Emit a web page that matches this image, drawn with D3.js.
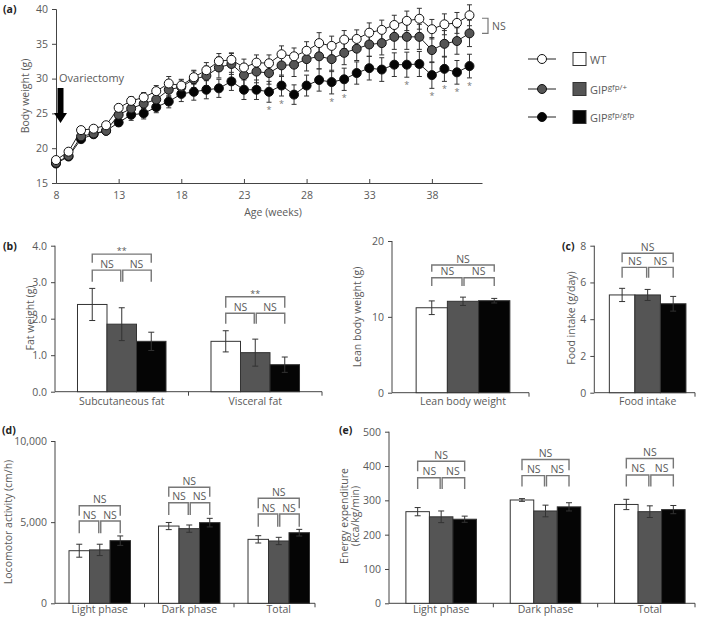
<!DOCTYPE html>
<html><head><meta charset="utf-8">
<script src="https://cdn.jsdelivr.net/npm/d3@7"></script>
<style>
body{margin:0;background:#fff}
svg{display:block}
text{font-family:"Open Sans",sans-serif;fill:#5a5a5a}
</style>
</head><body>
<svg id="c" width="709" height="618"></svg>
<script>
// ---------- DATA ----------
const weeks=[8,9,10,11,12,13,14,15,16,17,18,19,20,21,22,23,24,25,26,27,28,29,30,31,32,33,34,35,36,37,38,39,40,41];
const wtBW =[18.3,19.5,22.6,22.8,23.3,25.8,26.8,27.3,28.2,29.3,29.0,30.2,31.2,32.5,32.7,31.6,32.3,32.2,33.5,33.2,34.0,35.1,34.7,35.6,35.7,36.6,37.0,37.7,38.3,38.6,37.1,37.8,38.0,39.1];
const hetBW=[17.9,18.9,21.7,22.1,22.5,24.8,25.7,26.4,27.0,28.4,28.8,29.9,30.4,31.6,32.1,30.5,31.0,30.8,31.9,32.0,32.8,33.2,32.8,33.7,34.3,34.9,35.1,36.0,36.0,36.0,34.1,35.0,35.4,36.5];
const homBW=[17.8,18.8,21.3,22.0,22.5,23.7,24.8,25.0,25.9,26.7,27.8,28.1,28.4,28.6,29.6,28.4,28.4,28.1,29.0,27.7,29.0,29.8,29.5,29.9,30.8,31.5,31.3,32.0,32.0,32.1,30.5,31.4,30.9,31.8];
const wtErr =[0.3,0.3,0.4,0.4,0.4,0.5,0.6,0.7,0.8,1.0,0.9,1.0,1.1,1.1,1.0,1.2,1.1,1.2,1.2,1.2,1.3,1.5,1.4,1.3,1.3,1.4,1.4,1.4,1.4,1.5,1.4,1.5,1.5,1.5];
const hetErr=[0.3,0.3,0.4,0.4,0.4,0.5,0.6,0.7,0.8,1.0,1.0,1.2,1.4,1.5,1.5,1.6,1.6,1.6,1.6,1.7,1.7,1.8,1.8,1.7,1.7,1.7,1.7,1.8,1.8,1.8,1.8,1.9,1.9,1.9];
const homErr=[0.3,0.3,0.4,0.4,0.4,0.5,0.8,0.8,0.8,0.9,1.1,1.2,1.3,1.3,1.3,1.4,1.4,1.5,1.5,1.4,1.5,1.6,1.7,1.6,1.6,1.7,1.7,1.7,1.8,1.8,1.9,1.8,1.7,1.7];
const sigWeeks=[25,26,30,31,36,38,39,40,41];
const weekTicks=[8,13,18,23,28,33,38];
const bwTicks=[15,20,25,30,35,40];

const groupNames=["WT","GIP","GIP"];
const groupSup=["","gfp/+","gfp/gfp"];
const groupFill=["#ffffff","#555555","#050505"];

const fatCats=["Subcutaneous fat","Visceral fat"];
const fatMean=[[2.39,1.85,1.38],[1.38,1.07,0.74]];
const fatErr =[[0.44,0.45,0.25],[0.29,0.37,0.21]];
const fatSig =[["**","NS","NS"],["**","NS","NS"]];
const fatTicks=[0,1,2,3,4];

const leanCats=["Lean body weight"];
const leanMean=[[11.2,12.05,12.13]];
const leanErr =[[0.9,0.55,0.3]];
const leanSig =[["NS","NS","NS"]];
const leanTicks=[0,10,20];

const foodCats=["Food intake"];
const foodMean=[[5.32,5.32,4.84]];
const foodErr =[[0.36,0.3,0.4]];
const foodSig =[["NS","NS","NS"]];
const foodTicks=[0,2,4,6,8];

const phaseCats=["Light phase","Dark phase","Total"];
const locoMean=[[3240,3290,3860],[4760,4600,4970],[3940,3840,4350]];
const locoErr =[[400,350,290],[220,225,265],[225,225,205]];
const locoSig =[["NS","NS","NS"],["NS","NS","NS"],["NS","NS","NS"]];
const locoTicks=[0,5000,10000];

const eeMean=[[267,252,245],[301,269,281],[288,267,273]];
const eeErr =[[12,17,9],[4,17,12],[15,17,12]];
const eeSig =[["NS","NS","NS"],["NS","NS","NS"],["NS","NS","NS"]];
const eeTicks=[0,100,200,300,400,500];

// ---------- DRAW ----------
const svg=d3.select("#c");
const AX="#444", BR="#777", FS=10.5;

function styleAxis(g){
  g.selectAll("path.domain").attr("stroke",AX).attr("stroke-width",1);
  g.selectAll(".tick line").attr("stroke",AX);
  g.selectAll(".tick text").attr("font-size",FS).attr("fill","#5a5a5a").attr("font-family","Open Sans");
}
function panelLabel(t,x,y){
  svg.append("text").attr("x",x).attr("y",y).text(t).attr("font-size",10.5)
    .attr("font-weight","bold").style("fill","#222");
}
function yTitle(lines,x,y){
  const t=svg.append("text").attr("transform",`translate(${x},${y}) rotate(-90)`)
    .attr("text-anchor","middle").attr("font-size",FS);
  lines.forEach((l,i)=>t.append("tspan").attr("x",0).attr("dy",i?"1.05em":0).text(l));
}

// ===== Panel (a) =====
(function(){
  const x=d3.scaleLinear().domain([8,42]).range([56,482]);
  const y=d3.scaleLinear().domain([15,40]).range([183,9]);
  const gx=svg.append("g").attr("transform","translate(0,183)")
    .call(d3.axisBottom(x).tickValues(weekTicks).tickSizeInner(-4).tickSizeOuter(0).tickPadding(9));
  styleAxis(gx);
  const gy=svg.append("g").attr("transform","translate(56,0)")
    .call(d3.axisLeft(y).tickValues(bwTicks).tickSize(4).tickPadding(4));
  styleAxis(gy);
  svg.append("text").attr("x",273).attr("y",216).attr("text-anchor","middle").attr("font-size",FS).text("Age (weeks)");
  yTitle(["Body weight (g)"],29,96);
  panelLabel("(a)",3,13);

  const series=[
    {v:homBW,e:homErr,fill:groupFill[2]},
    {v:hetBW,e:hetErr,fill:groupFill[1]},
    {v:wtBW,e:wtErr,fill:groupFill[0]}];
  const eg=svg.append("g").attr("stroke","#333").attr("stroke-width",1);
  series.forEach(s=>{
    weeks.forEach((w,i)=>{
      const xx=x(w), t=y(s.v[i]+s.e[i]), b=y(s.v[i]-s.e[i]);
      eg.append("line").attr("x1",xx).attr("x2",xx).attr("y1",t).attr("y2",b);
      eg.append("line").attr("x1",xx-2.5).attr("x2",xx+2.5).attr("y1",t).attr("y2",t);
      eg.append("line").attr("x1",xx-2.5).attr("x2",xx+2.5).attr("y1",b).attr("y2",b);
    });
  });
  const line=d3.line().x((d,i)=>x(weeks[i])).y(d=>y(d));
  series.forEach(s=>{
    svg.append("path").datum(s.v).attr("d",line).attr("fill","none").attr("stroke","#222").attr("stroke-width",1);
  });
  series.forEach(s=>{
    svg.append("g").selectAll("circle").data(s.v).join("circle")
      .attr("cx",(d,i)=>x(weeks[i])).attr("cy",d=>y(d)).attr("r",4.5)
      .attr("fill",s.fill).attr("stroke","#111").attr("stroke-width",1);
  });
  sigWeeks.forEach(w=>{
    const i=weeks.indexOf(w);
    svg.append("text").attr("x",x(w)).attr("y",y(homBW[i]-homErr[i])+11)
      .attr("text-anchor","middle").attr("font-size",9).style("fill","#777").text("*");
  });
  const xe=x(42), y1=y(wtBW[wtBW.length-1])+3, y2=y(hetBW[hetBW.length-1]);
  svg.append("path").attr("d",`M${xe},${y1}H${xe+6}V${y2}H${xe}`).attr("fill","none").attr("stroke",BR).attr("stroke-width",1.2);
  svg.append("text").attr("x",xe+10).attr("y",(y1+y2)/2+4).attr("font-size",FS).text("NS");
  svg.append("text").attr("x",59).attr("y",82).attr("font-size",FS+0.5).text("Ovariectomy");
  const ax=x(8)+4.5;
  svg.append("path").attr("d",`M${ax-3},88H${ax+3}V113H${ax+6.5}L${ax},123L${ax-6.5},113H${ax-3}Z`).attr("fill","#000");

  const ly=[59,89,117];
  const lg=svg.append("g");
  [0,1,2].forEach(k=>{
    lg.append("line").attr("x1",528).attr("x2",556).attr("y1",ly[k]).attr("y2",ly[k]).attr("stroke","#222");
    lg.append("circle").attr("cx",542).attr("cy",ly[k]).attr("r",4.5).attr("fill",groupFill[k]).attr("stroke","#111");
    lg.append("rect").attr("x",573).attr("y",ly[k]-6.5).attr("width",13).attr("height",13)
      .attr("fill",groupFill[k]).attr("stroke","#333").attr("stroke-width",1);
    const t=lg.append("text").attr("x",590).attr("y",ly[k]+4.5).attr("font-size",11).text(groupNames[k]);
    if(groupSup[k]) t.append("tspan").attr("dy",-4).attr("font-size",8).text(groupSup[k]);
  });
})();

// ===== Bar panels =====
function barPanel(o){
  const y=d3.scaleLinear().domain(o.domain).range([o.y0,o.y1]);
  const xb=d3.scaleBand().domain(o.cats).range(o.xr);
  const gw=xb.bandwidth()*o.gf;
  const xi=d3.scaleBand().domain([0,1,2]).range([-gw/2,gw/2]);
  const gy=svg.append("g").attr("transform",`translate(${o.xr[0]},0)`)
    .call(d3.axisLeft(y).tickValues(o.ticks).tickSize(4).tickPadding(4).tickSizeOuter(0).tickFormat(o.fmt||null));
  styleAxis(gy);
  gy.select("path.domain").attr("d",`M0,${o.y0}V${o.y1}`);
  svg.append("line").attr("x1",o.xr[0]).attr("x2",o.axEnd).attr("y1",o.y0).attr("y2",o.y0).attr("stroke",AX);
  o.cats.forEach((c,j)=>{ if(j>0){const bx=xb(c); svg.append("line").attr("x1",bx).attr("x2",bx).attr("y1",o.y0).attr("y2",o.y0+4).attr("stroke",AX);} });
  svg.append("line").attr("x1",o.axEnd).attr("x2",o.axEnd).attr("y1",o.y0).attr("y2",o.y0+4).attr("stroke",AX);
  o.cats.forEach((c,j)=>{
    const cx=xb(c)+xb.bandwidth()/2;
    svg.append("text").attr("x",cx).attr("y",o.y0+o.ld).attr("text-anchor","middle").attr("font-size",FS).text(c);
    const centers=[];
    [0,1,2].forEach(k=>{
      const x0=cx+xi(k), w=xi.bandwidth();
      centers.push(x0+w/2);
      svg.append("rect").attr("x",x0).attr("y",y(o.mean[j][k])).attr("width",w)
        .attr("height",o.y0-y(o.mean[j][k])).attr("fill",groupFill[k]).attr("stroke","#333").attr("stroke-width",1);
    });
    [0,1,2].forEach(k=>{
      const xx=centers[k], t=y(o.mean[j][k]+o.err[j][k]), b=y(o.mean[j][k]-o.err[j][k]);
      const g=svg.append("g").attr("stroke","#333").attr("stroke-width",1);
      g.append("line").attr("x1",xx).attr("x2",xx).attr("y1",t).attr("y2",b);
      g.append("line").attr("x1",xx-3).attr("x2",xx+3).attr("y1",t).attr("y2",t);
      g.append("line").attr("x1",xx-3).attr("x2",xx+3).attr("y1",b).attr("y2",b);
    });
    const L=o.br[j].map(v=>y(v));
    const bg=svg.append("g").attr("fill","none").attr("stroke",BR).attr("stroke-width",1.4);
    const c0=centers[0], c1=centers[1], c2=centers[2];
    bg.append("path").attr("d",`M${c0},${L[1]}V${L[0]}H${c2}V${L[1]}`);
    bg.append("path").attr("d",`M${c0},${L[3]}V${L[2]}H${c1-1}V${L[3]}`);
    bg.append("path").attr("d",`M${c1+1},${L[3]}V${L[2]}H${c2}V${L[3]}`);
    const s=o.sig[j];
    svg.append("text").attr("x",c1).attr("y",L[0]-(s[0]==="**"?0:2.5)).attr("text-anchor","middle")
      .attr("font-size",s[0]==="**"?9:FS).text(s[0]);
    svg.append("text").attr("x",(c0+c1)/2).attr("y",L[2]-2.5).attr("text-anchor","middle").attr("font-size",FS).text(s[1]);
    svg.append("text").attr("x",(c1+c2)/2).attr("y",L[2]-2.5).attr("text-anchor","middle").attr("font-size",FS).text(s[2]);
  });
}

barPanel({cats:fatCats,mean:fatMean,err:fatErr,sig:fatSig,ticks:fatTicks,domain:[0,4],
  xr:[55,322],axEnd:322,y0:391.7,y1:245.7,gf:0.663,ld:13,
  br:[[3.77,3.53,3.33,3.01],[2.60,2.30,2.15,1.86]]});
yTitle(["Fat weight (g)"],34,318);
panelLabel("(b)",3,250);

barPanel({cats:leanCats,mean:leanMean,err:leanErr,sig:leanSig,ticks:leanTicks,domain:[0,20],
  xr:[392,534],axEnd:529,y0:392.7,y1:241,gf:0.66,ld:12,
  br:[[16.83,15.95,15.16,14.07]]});
yTitle(["Lean body weight (g)"],361,317);

barPanel({cats:foodCats,mean:foodMean,err:foodErr,sig:foodSig,ticks:foodTicks,domain:[0,8],
  xr:[594.3,701],axEnd:695,y0:392.7,y1:245.7,gf:0.718,ld:12,
  br:[[7.59,7.10,6.82,6.26]]});
yTitle(["Food intake (g/day)"],575,318);
panelLabel("(c)",562,250);

barPanel({cats:phaseCats,mean:locoMean,err:locoErr,sig:locoSig,ticks:locoTicks,domain:[0,10000],
  xr:[55,323.5],axEnd:315,y0:603.3,y1:441,gf:0.687,fmt:d3.format(","),ld:10,
  br:[[6012,5396,5070,4312],[7146,6566,6197,5439],[6468,5852,5501,4718]]});
yTitle(["Locomotor activity (cm/h)"],12,522);
panelLabel("(d)",2,434);

barPanel({cats:phaseCats,mean:eeMean,err:eeErr,sig:eeSig,ticks:eeTicks,domain:[0,500],
  xr:[389,702],axEnd:695,y0:603.3,y1:431.7,gf:0.676,ld:10,
  br:[[414,385,366,333],[419,388,372,340],[422,393,374,340]]});
yTitle(["Energy expenditure","(kca/kg/min)"],348,516);
panelLabel("(e)",339,434);
</script>
</body></html>
